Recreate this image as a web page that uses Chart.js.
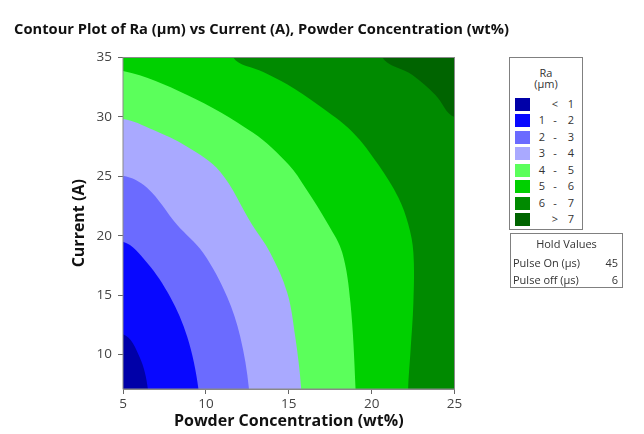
<!DOCTYPE html>
<html>
<head>
<meta charset="utf-8">
<script src="https://cdn.jsdelivr.net/npm/chart.js@4.4.1/dist/chart.umd.min.js"></script>
<style>
  body { margin: 0; background: #fff; font-family: "Open Sans", sans-serif; }
  #wrap { position: relative; width: 644px; height: 434px; }
  #plot { position: absolute; left: 0; top: 0; }
  #title { position: absolute; left: 0; top: 21px; width: 523px; text-align: center;
           font-weight: bold; font-size: 14.7px; line-height: 15px; color: #111; }
  .box { position: absolute; border: 1px solid #808080; background: #fff; color: #333;
         font-size: 11px; box-sizing: border-box; }
  .box span { position: absolute; line-height: 14px; height: 14px; white-space: nowrap; }
  .sw { position: absolute; width: 15px; height: 13px; }
</style>
</head>
<body>
<div id="wrap">
  <canvas id="plot" width="644" height="434"></canvas>
  <div id="title">Contour Plot of Ra (µm) vs Current (A), Powder Concentration (wt%)</div>
  <div class="box" id="legend" style="left:509px;top:57px;width:74px;height:173px;"></div>
  <div class="box" id="hold" style="left:510px;top:233px;width:113px;height:55px;"></div>
</div>
<script>
// Ra bands, lowest to highest
const bandLabels = ["< 1", "1 - 2", "2 - 3", "3 - 4", "4 - 5", "5 - 6", "6 - 7", "> 7"];
const bandColors = ["#0000a8", "#0808ff", "#6b6bff", "#a9a9ff", "#5bff5b", "#00d000", "#008a00", "#006400"];

const xTicks = [5, 10, 15, 20, 25];
const yTicks = [10, 15, 20, 25, 30, 35];
const X_MIN = 5, X_MAX = 25, Y_MIN = 7.1, Y_MAX = 35;

// contour lines: powder concentration (wt%) and current (A) along each Ra level,
// levels 1-5 run from the left edge down to the bottom edge
const ra1Powder  = [5.0, 6.0, 6.5];
const ra1Current = [11.7, 9.8, 7.1];
const ra2Powder  = [5.0, 6.45, 7.84, 8.87, 9.55];
const ra2Current = [19.5, 17.73, 14.87, 11.51, 7.1];
const ra3Powder  = [5.0, 6.45, 8.26, 9.83, 11.28, 12.07, 12.6];
const ra3Current = [25.04, 24.03, 20.92, 18.57, 14.87, 11.51, 7.1];
const ra4Powder  = [5.0, 6.81, 8.87, 10.86, 12.79, 13.88, 14.91, 15.39, 15.75];
const ra4Current = [29.83, 28.91, 27.48, 25.38, 20.92, 18.57, 15.21, 11.51, 7.1];
const ra5Powder  = [5.0, 8.87, 12.85, 15.0, 16.0, 17.39, 18.23, 18.72, 19.03];
const ra5Current = [33.87, 31.85, 28.66, 25.97, 24.03, 20.92, 18.57, 14.37, 7.1];
// level 6 runs from the top edge to the bottom edge
const ra6Powder  = [11.65, 13.46, 14.9, 16.78, 18.84, 20.41, 21.62, 22.22, 22.52, 22.52, 22.34, 22.2];
const ra6Current = [35, 33.78, 32.75, 31.01, 28.74, 25.97, 23.19, 20.92, 18.57, 14.37, 10.17, 7.1];
// level 7 runs from the top edge to the right edge
const ra7Powder  = [20.65, 22.46, 23.85, 25];
const ra7Current = [35, 33.53, 31.85, 30.0];

const holdNames = ["Pulse On (µs)", "Pulse off (µs)"];
const holdValues = [45, 6];

const toPoints = (xs, ys) => xs.map((x, i) => ({ x: x, y: ys[i] }));

// close a contour line into a region by going around outside the axes
// (the fill is clipped to the plot area, so the outer corners never show)
const OUT = 3;
function lowerLeft(pts) {
    const first = pts[0], last = pts[pts.length - 1];
    const head = first.x <= X_MIN
        ? [{ x: X_MIN - OUT, y: first.y }]
        : [{ x: first.x, y: Y_MAX + OUT }];
    const tail = [{ x: last.x, y: Y_MIN - OUT }, { x: X_MIN - OUT, y: Y_MIN - OUT }];
    if (first.x > X_MIN) tail.push({ x: X_MIN - OUT, y: Y_MAX + OUT });
    return head.concat(pts, tail);
}
function upperRight(pts) {
    const first = pts[0], last = pts[pts.length - 1];
    return [{ x: first.x, y: Y_MAX + OUT }].concat(pts, [
        { x: X_MAX + OUT, y: last.y },
        { x: X_MAX + OUT, y: Y_MAX + OUT }
    ]);
}

const regions = [
    lowerLeft(toPoints(ra1Powder, ra1Current)),
    lowerLeft(toPoints(ra2Powder, ra2Current)),
    lowerLeft(toPoints(ra3Powder, ra3Current)),
    lowerLeft(toPoints(ra4Powder, ra4Current)),
    lowerLeft(toPoints(ra5Powder, ra5Current)),
    lowerLeft(toPoints(ra6Powder, ra6Current)),
    upperRight(toPoints(ra7Powder, ra7Current))
];

// first dataset is drawn on top, so the smallest region goes first;
// the 6-7 band is the plot background
const regionColors = [bandColors[0], bandColors[1], bandColors[2], bandColors[3],
                      bandColors[4], bandColors[5], bandColors[7]];
const datasets = regions.map((pts, i) => ({
    data: pts,
    showLine: true,
    fill: "shape",
    backgroundColor: regionColors[i],
    borderWidth: 0,
    pointRadius: 0,
    tension: 0.35,
    capBezierPoints: false
}));

const plotFrame = {
    id: "plotFrame",
    beforeDraw(chart) {
        const a = chart.chartArea;
        const ctx = chart.ctx;
        ctx.save();
        ctx.fillStyle = bandColors[6];
        ctx.fillRect(a.left, a.top, a.right - a.left, a.bottom - a.top);
        ctx.restore();
    },
    afterDatasetsDraw(chart) {
        const a = chart.chartArea;
        const ctx = chart.ctx;
        ctx.save();
        ctx.strokeStyle = "#8a8a8a";
        ctx.lineWidth = 1;
        ctx.strokeRect(a.left, a.top, a.right - a.left, a.bottom - a.top);
        ctx.restore();
    }
};

const tickFont = { family: "Open Sans", size: 13.5 };
const titleFont = { family: "Open Sans", size: 16, weight: "bold" };

new Chart(document.getElementById("plot"), {
    type: "scatter",
    data: { datasets: datasets },
    options: {
        responsive: false,
        animation: false,
        events: [],
        layout: { padding: { top: 57.5, right: 189.5, bottom: 0, left: 0 } },
        plugins: {
            legend: { display: false },
            tooltip: { enabled: false }
        },
        scales: {
            x: {
                type: "linear",
                position: "bottom",
                min: X_MIN,
                max: X_MAX,
                afterBuildTicks: s => { s.ticks = xTicks.map(v => ({ value: v })); },
                afterFit: s => { s.height = 45; },
                ticks: { font: tickFont, color: "#444", padding: 2 },
                grid: { drawOnChartArea: false, tickLength: 5, color: "#666" },
                border: { color: "#888" },
                title: {
                    display: true,
                    text: "Powder Concentration (wt%)",
                    font: titleFont,
                    color: "#111",
                    padding: { top: 0, bottom: 3.4 }
                }
            },
            y: {
                type: "linear",
                position: "left",
                min: Y_MIN,
                max: Y_MAX,
                afterBuildTicks: s => { s.ticks = yTicks.map(v => ({ value: v })); },
                afterFit: s => { s.width = 123; },
                ticks: { font: tickFont, color: "#444", padding: 6 },
                grid: { drawOnChartArea: false, tickLength: 5, color: "#666" },
                border: { color: "#888" },
                title: {
                    display: true,
                    text: "Current (A)",
                    font: titleFont,
                    color: "#111",
                    padding: { top: 69.4, bottom: 0 }
                }
            }
        }
    },
    plugins: [plotFrame]
});

// Ra legend box
function addText(box, text, css) {
    const s = document.createElement("span");
    s.textContent = text;
    s.style.cssText = css;
    box.appendChild(s);
    return s;
}

const legend = document.getElementById("legend");
addText(legend, "Ra", "left:0;width:72px;text-align:center;top:8px;");
addText(legend, "(µm)", "left:0;width:72px;text-align:center;top:19px;");
bandLabels.forEach((label, i) => {
    const top = 40 + i * 16.43;
    const sw = document.createElement("div");
    sw.className = "sw";
    sw.style.left = "5px";
    sw.style.top = top + "px";
    sw.style.background = bandColors[i];
    legend.appendChild(sw);

    const parts = label.split(" ");
    const low = parts.length === 3 ? parts[0] : "";
    const sep = parts.length === 3 ? parts[1] : parts[0];
    const high = parts[parts.length - 1];
    const ty = top - 1;
    addText(legend, low, `right:${72 - 35}px;top:${ty}px;`);
    addText(legend, sep, `left:38px;width:14px;text-align:center;top:${ty}px;`);
    addText(legend, high, `right:${72 - 64}px;top:${ty}px;`);
});

// hold values box
const hold = document.getElementById("hold");
addText(hold, "Hold Values", "left:0;width:111px;text-align:center;top:3px;");
holdNames.forEach((name, i) => {
    const ty = 22 + i * 17;
    addText(hold, name, `left:2px;top:${ty}px;`);
    addText(hold, String(holdValues[i]), `right:4px;top:${ty}px;`);
});
</script>
</body>
</html>
